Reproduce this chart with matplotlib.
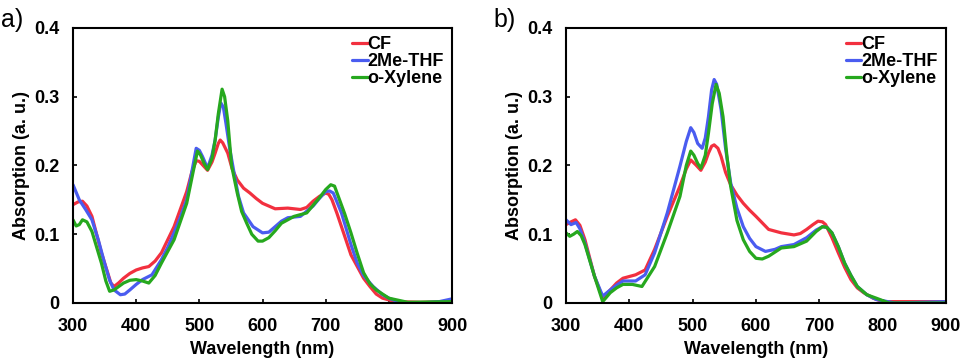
import matplotlib.pyplot as plt

plt.rcParams['font.family'] = ['Liberation Sans', 'DejaVu Sans']
plt.rcParams['font.weight'] = 'bold'

# ---- panel a) data (wavelength nm, absorption a.u.) ----
a_cf_x = [300, 308, 315, 322, 330, 345, 360, 365, 372, 380, 390, 400, 410, 420, 430,
          440, 460, 480, 488, 495, 500, 505, 513, 520, 525, 530, 533, 537, 545, 552,
          560, 570, 580, 590, 600, 620, 640, 660, 670, 680, 690, 700, 705, 710, 718,
          725, 740, 750, 760, 770, 780, 790, 810, 850, 900]
a_cf_y = [0.143, 0.147, 0.148, 0.141, 0.126, 0.073, 0.029, 0.024, 0.029, 0.036, 0.043,
          0.048, 0.051, 0.053, 0.061, 0.073, 0.111, 0.162, 0.190, 0.207, 0.206, 0.201,
          0.193, 0.205, 0.218, 0.232, 0.237, 0.233, 0.218, 0.195, 0.179, 0.167, 0.160,
          0.152, 0.145, 0.137, 0.138, 0.136, 0.139, 0.148, 0.155, 0.160, 0.158, 0.150,
          0.130, 0.111, 0.070, 0.053, 0.036, 0.024, 0.013, 0.007, 0.002, 0.001, 0.002]
a_thf_x = [300, 310, 320, 330, 340, 350, 358, 365, 375, 382, 390, 400, 410, 425, 440,
           450, 460, 470, 480, 488, 495, 500, 505, 513, 520, 525, 530, 534, 538, 542,
           548, 555, 562, 570, 585, 600, 610, 620, 630, 640, 660, 680, 690, 700, 706,
           712, 725, 740, 750, 760, 775, 790, 800, 820, 850, 880, 900]
a_thf_y = [0.172, 0.150, 0.136, 0.121, 0.092, 0.058, 0.033, 0.019, 0.012, 0.013, 0.019,
           0.027, 0.034, 0.041, 0.063, 0.081, 0.102, 0.125, 0.150, 0.190, 0.225, 0.222,
           0.213, 0.196, 0.215, 0.237, 0.270, 0.291, 0.285, 0.262, 0.225, 0.189, 0.155,
           0.131, 0.111, 0.102, 0.103, 0.111, 0.119, 0.124, 0.126, 0.141, 0.152, 0.162,
           0.163, 0.160, 0.131, 0.085, 0.058, 0.040, 0.024, 0.012, 0.007, 0.000, 0.000,
           0.002, 0.006]
a_xyl_x = [300, 305, 310, 315, 322, 330, 345, 352, 358, 365, 380, 390, 400, 410, 420,
           430, 440, 460, 480, 490, 497, 502, 507, 513, 520, 525, 530, 536, 540, 545,
           551, 560, 567, 575, 583, 593, 600, 610, 620, 630, 650, 670, 690, 700, 708,
           714, 720, 730, 740, 750, 760, 770, 780, 800, 830, 900]
a_xyl_y = [0.121, 0.112, 0.114, 0.121, 0.118, 0.104, 0.058, 0.032, 0.017, 0.019, 0.029,
           0.033, 0.034, 0.032, 0.029, 0.040, 0.058, 0.092, 0.145, 0.190, 0.221, 0.215,
           0.204, 0.194, 0.210, 0.237, 0.275, 0.311, 0.300, 0.265, 0.200, 0.160, 0.133,
           0.116, 0.100, 0.090, 0.090, 0.095, 0.105, 0.116, 0.126, 0.131, 0.153, 0.165,
           0.172, 0.170, 0.155, 0.130, 0.102, 0.072, 0.044, 0.028, 0.019, 0.007, 0.001,
           0.002]

# ---- panel b) data ----
b_cf_x = [300, 308, 315, 322, 330, 345, 358, 370, 380, 390, 410, 425, 440, 460, 480,
          490, 497, 505, 513, 520, 525, 530, 534, 540, 545, 552, 560, 570, 580, 590,
          600, 620, 640, 660, 670, 680, 690, 698, 705, 710, 720, 730, 740, 750, 760,
          770, 785, 800, 900]
b_cf_y = [0.114, 0.118, 0.121, 0.113, 0.092, 0.039, 0.007, 0.019, 0.029, 0.036, 0.041,
          0.048, 0.078, 0.126, 0.170, 0.195, 0.208, 0.201, 0.193, 0.205, 0.218, 0.228,
          0.230, 0.225, 0.213, 0.190, 0.172, 0.157, 0.145, 0.135, 0.126, 0.107, 0.102,
          0.099, 0.101, 0.107, 0.114, 0.119, 0.118, 0.114, 0.095, 0.073, 0.052, 0.034,
          0.022, 0.015, 0.007, 0.002, 0.002]
b_thf_x = [300, 308, 316, 322, 330, 345, 358, 370, 380, 390, 410, 425, 440, 460, 480,
           490, 497, 502, 508, 515, 520, 525, 530, 534, 538, 545, 552, 560, 570, 580,
           590, 600, 615, 630, 640, 660, 680, 695, 705, 712, 720, 730, 740, 750, 760,
           775, 790, 820, 900]
b_thf_y = [0.121, 0.114, 0.117, 0.108, 0.087, 0.039, 0.010, 0.019, 0.026, 0.032, 0.032,
           0.041, 0.073, 0.131, 0.199, 0.235, 0.255, 0.248, 0.232, 0.225, 0.240, 0.271,
           0.310, 0.325, 0.318, 0.281, 0.225, 0.175, 0.138, 0.111, 0.094, 0.082, 0.075,
           0.078, 0.082, 0.085, 0.095, 0.106, 0.111, 0.110, 0.102, 0.082, 0.058, 0.040,
           0.024, 0.012, 0.005, 0.000, 0.002]
b_xyl_x = [300, 306, 312, 318, 324, 330, 345, 358, 370, 380, 390, 405, 420, 440, 460,
           480, 490, 497, 502, 508, 513, 520, 525, 531, 537, 542, 548, 554, 560, 570,
           580, 590, 600, 610, 620, 640, 660, 680, 695, 705, 712, 720, 730, 740, 750,
           760, 775, 790, 810, 900]
b_xyl_y = [0.102, 0.097, 0.100, 0.104, 0.098, 0.085, 0.039, 0.002, 0.015, 0.022, 0.027,
           0.027, 0.024, 0.053, 0.102, 0.155, 0.200, 0.221, 0.215, 0.203, 0.196, 0.215,
           0.247, 0.290, 0.318, 0.305, 0.271, 0.215, 0.170, 0.120, 0.092, 0.075, 0.065,
           0.064, 0.068, 0.080, 0.082, 0.090, 0.104, 0.111, 0.110, 0.102, 0.082, 0.058,
           0.040, 0.024, 0.012, 0.007, 0.000, 0.000]

labels = ['CF', '2Me-THF', 'o-Xylene']
colors = ['#f2303f', '#4a5cf0', '#26a81e']

x_ticks = [300, 400, 500, 600, 700, 800, 900]
y_ticks = [0, 0.1, 0.2, 0.3, 0.4]
y_tick_labels = ['0', '0.1', '0.2', '0.3', '0.4']

fig = plt.figure(figsize=(9.63, 3.61), dpi=100)
ax_a = fig.add_axes([0.0758, 0.1607, 0.3936, 0.7618])
ax_b = fig.add_axes([0.5877, 0.1607, 0.3946, 0.7618])

panels = [
    (ax_a, 'a)', [(a_cf_x, a_cf_y), (a_thf_x, a_thf_y), (a_xyl_x, a_xyl_y)]),
    (ax_b, 'b)', [(b_cf_x, b_cf_y), (b_thf_x, b_thf_y), (b_xyl_x, b_xyl_y)]),
]

for ax, tag, series in panels:
    for (xs, ys), lab, col in zip(series, labels, colors):
        ax.plot(xs, ys, color=col, lw=2.3, label=lab, solid_joinstyle='round',
                solid_capstyle='round')
    ax.set_xlim(300, 900)
    ax.set_ylim(0, 0.4)
    ax.set_xticks(x_ticks)
    ax.set_yticks(y_ticks)
    ax.set_yticklabels(y_tick_labels)
    ax.tick_params(direction='in', length=3, width=1.2, labelsize=13)
    ax.tick_params(axis='y', pad=10)
    ax.tick_params(axis='x', pad=11)
    for lbl in ax.get_xticklabels() + ax.get_yticklabels():
        lbl.set_fontweight('bold')
    for sp in ax.spines.values():
        sp.set_linewidth(1.5)
    ax.set_xlabel('Wavelength (nm)', fontsize=13, fontweight='bold', labelpad=4)
    ax.set_ylabel('Absorption (a. u.)', fontsize=13, fontweight='bold', labelpad=3)
    leg = ax.legend(loc='upper right', frameon=False, handlelength=0.85,
                    handletextpad=0.0, labelspacing=0.0, borderaxespad=0.25,
                    borderpad=0.2, prop={'weight': 'bold', 'size': 13})
    ax.text(-0.19, 1.03, tag, transform=ax.transAxes, fontsize=18, fontweight='normal',
            ha='left', va='center')

fig.savefig('out.png', dpi=100)
